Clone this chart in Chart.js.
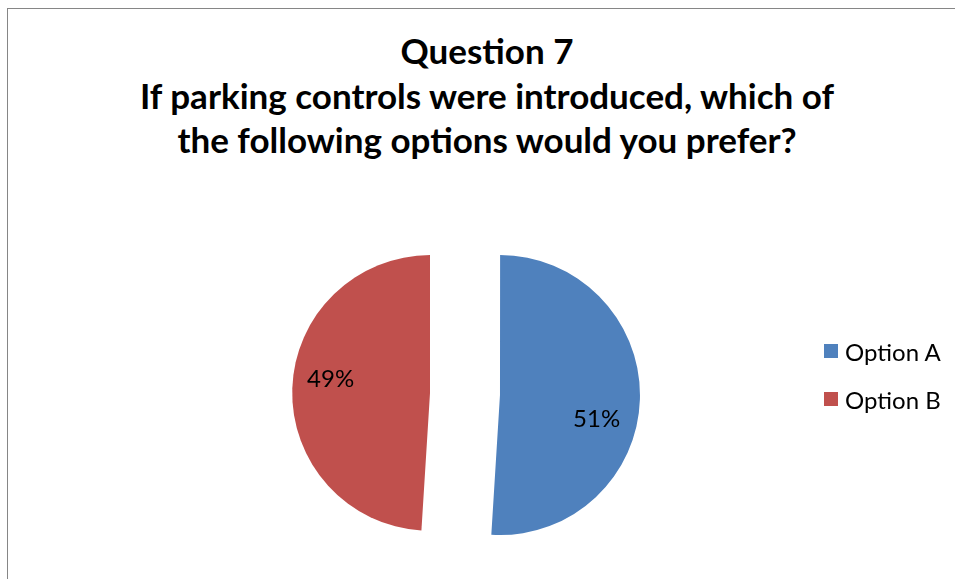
<!DOCTYPE html>
<html>
<head>
<meta charset="utf-8">
<script src="https://cdn.jsdelivr.net/npm/chart.js@4.4.1/dist/chart.umd.min.js"></script>
<style>
  html, body { margin: 0; padding: 0; background: #fff; overflow: hidden; }
  body { width: 955px; height: 579px; position: relative; font-family: Lato, "Noto Sans", sans-serif; }
  #frame { position: absolute; left: 7px; top: 8px; width: 1100px; height: 700px; border: 1px solid #868686; box-sizing: border-box; }
  #title { position: absolute; left: 0; top: 28px; width: 974px; text-align: center; font-weight: bold; font-size: 35px; line-height: 44.5px; color: #000; }
  #chart { position: absolute; left: 0; top: 0; }
  #legend { position: absolute; left: 824px; top: 327px; font-size: 24px; color: #000; }
  .item { display: flex; align-items: center; height: 48px; }
  .sw { width: 14px; height: 14px; margin-right: 7px; }
</style>
</head>
<body>
<div id="frame"></div>
<div id="title"></div>
<canvas id="chart" width="955" height="579"></canvas>
<div id="legend"></div>
<script>
const titleLines = ["Question 7", "If parking controls were introduced, which of", "the following options would you prefer?"];
const categories = ["Option A", "Option B"];
const values = [51, 49];
const colors = ["#4F81BD", "#C0504D"];

document.getElementById('title').innerHTML = titleLines.map(t => '<div>' + t + '</div>').join('');
document.getElementById('legend').innerHTML = categories.map((c, i) =>
  '<div class="item"><span class="sw" style="background:' + colors[i] + '"></span><span>' + c + '</span></div>').join('');

const pctLabels = {
  id: 'pctLabels',
  afterDatasetsDraw(chart, args, opts) {
    const ctx = chart.ctx;
    const meta = chart.getDatasetMeta(0);
    const data = chart.data.datasets[0].data;
    const total = data.reduce((a, b) => a + b, 0);
    ctx.save();
    ctx.font = opts.font;
    ctx.fillStyle = '#000';
    ctx.textAlign = 'center';
    ctx.textBaseline = 'middle';
    meta.data.forEach((arc, i) => {
      const p = arc.getProps(['x', 'y', 'startAngle', 'endAngle', 'outerRadius']);
      const off = (arc.options.offset || 0) / 4; // shift the arc uses when drawn
      const r = p.outerRadius + off + (arc.options.spacing || 0) / 2; // drawn radius
      const mid = (p.startAngle + p.endAngle) / 2;
      const cx = p.x + Math.cos(mid) * off;
      const cy = p.y + Math.sin(mid) * off;
      const pos = opts.positions[i];
      ctx.fillText(Math.round(data[i] / total * 100) + '%', cx + pos[0] * r, cy + pos[1] * r);
    });
    ctx.restore();
  }
};

new Chart(document.getElementById('chart'), {
  type: 'pie',
  data: {
    labels: categories,
    datasets: [{ data: values, backgroundColor: colors, borderWidth: 0, offset: 140, hoverOffset: 0, spacing: -3.36 }]
  },
  options: {
    responsive: false,
    animation: false,
    events: [],
    layout: { padding: { top: 219, bottom: 10, left: 290, right: 315 } },
    plugins: {
      legend: { display: false },
      title: { display: false },
      tooltip: { enabled: false },
      pctLabels: { font: '24px Lato, "Noto Sans", sans-serif', positions: [[0.69, 0.17], [-0.71, -0.10]] }
    }
  },
  plugins: [pctLabels]
});
</script>
</body>
</html>
